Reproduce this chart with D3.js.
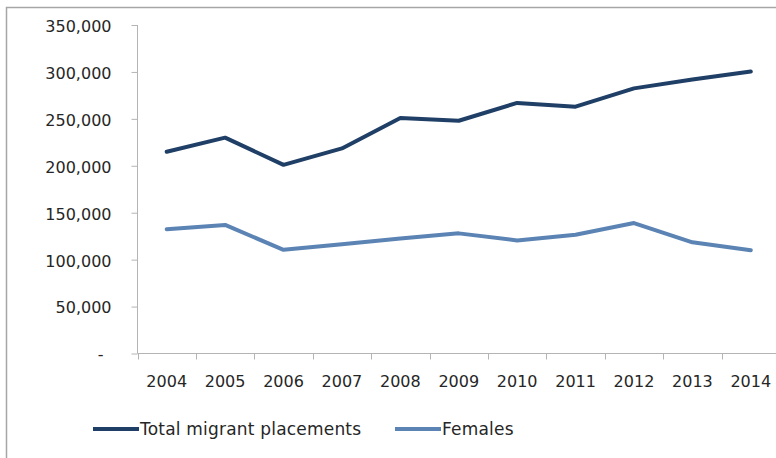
<!DOCTYPE html>
<html>
<head>
<meta charset="utf-8">
<script src="https://cdn.jsdelivr.net/npm/d3@7"></script>
<style>
  html, body { margin: 0; padding: 0; background: #fff; }
  svg { display: block; }
  text { font-family: "DejaVu Sans", Verdana, sans-serif; fill: #262626; }
</style>
</head>
<body>
<svg id="chart" width="776" height="458"></svg>
<script>
const years = ["2004","2005","2006","2007","2008","2009","2010","2011","2012","2013","2014"];
const totalPlacements = [215000, 230000, 201000, 218500, 251000, 248000, 267000, 263000, 282500, 292000, 300500];
const females = [132500, 137000, 110500, 116500, 122500, 128000, 120500, 126500, 139000, 118500, 110000];
const yTicks = [0, 50000, 100000, 150000, 200000, 250000, 300000, 350000];
const seriesNames = ["Total migrant placements", "Females"];
const seriesColors = ["#203f66", "#5b84b5"];

const svg = d3.select("#chart");

// outer frame
svg.append("rect")
  .attr("x", 6.5).attr("y", 7.5)
  .attr("width", 800).attr("height", 500)
  .attr("fill", "none").attr("stroke", "#a6a6a6").attr("stroke-width", 1.5);

const x = d3.scaleBand().domain(years).range([137.5, 780]).paddingInner(0).paddingOuter(0);
const y = d3.scaleLinear().domain([0, 350000]).range([353.5, 25]);

// Y axis
const yAxis = d3.axisLeft(y).tickValues(yTicks).tickSize(6).tickPadding(0)
  .tickFormat(d => d === 0 ? "-" : d3.format(",")(d));
const gy = svg.append("g").attr("transform", "translate(137.5,0)").call(yAxis);
gy.select(".domain").attr("stroke", "#b4b4b4").attr("d", `M0,${y(350000)}V${y(0)}`);
gy.selectAll(".tick line").attr("stroke", "#b4b4b4");
gy.selectAll(".tick text")
  .attr("x", d => d === 0 ? -34 : -26)
  .attr("dy", "0.4em")
  .style("font-size", "16px")
  .style("fill", "#262626");

// X axis
const gx = svg.append("g").attr("transform", `translate(0,${y(0)})`);
gx.append("line").attr("x1", 137.5).attr("x2", 780).attr("y1", 0).attr("y2", 0)
  .attr("stroke", "#b4b4b4");
const boundaries = years.map(d => x(d)).concat([x(years[years.length-1]) + x.bandwidth()]);
gx.selectAll("line.tk").data(boundaries).enter().append("line").attr("class", "tk")
  .attr("x1", d => Math.round(d) + 0.5).attr("x2", d => Math.round(d) + 0.5)
  .attr("y1", 0).attr("y2", 6).attr("stroke", "#b4b4b4");
gx.selectAll("text").data(years).enter().append("text")
  .attr("x", d => x(d) + x.bandwidth() / 2)
  .attr("y", 33)
  .attr("text-anchor", "middle")
  .style("font-size", "16px")
  .text(d => d);

// Lines
const line = d3.line()
  .x((d, i) => x(years[i]) + x.bandwidth() / 2)
  .y(d => y(d));
[totalPlacements, females].forEach((vals, k) => {
  svg.append("path")
    .datum(vals)
    .attr("d", line)
    .attr("fill", "none")
    .attr("stroke", seriesColors[k])
    .attr("stroke-width", 4)
    .attr("stroke-linejoin", "round")
    .attr("stroke-linecap", "round");
});

// Legend
const legendX = [93, 395];
seriesNames.forEach((name, k) => {
  const g = svg.append("g").attr("transform", `translate(${legendX[k]},429)`);
  g.append("line").attr("x1", 0).attr("x2", 46).attr("y1", 0).attr("y2", 0)
    .attr("stroke", seriesColors[k]).attr("stroke-width", 4);
  g.append("text").attr("x", 47).attr("y", 6)
    .style("font-size", "17px")
    .style("letter-spacing", "0.2px")
    .text(name);
});
</script>
</body>
</html>
